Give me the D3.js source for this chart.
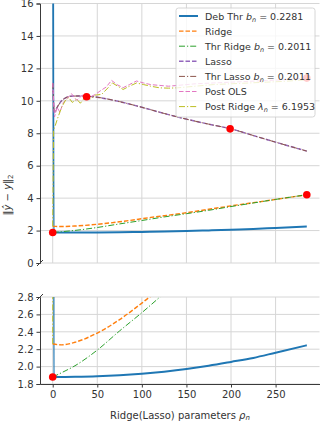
<!DOCTYPE html>
<html>
<head>
<meta charset="utf-8">
<script src="https://cdn.jsdelivr.net/npm/d3@7"></script>
<style>
  body { margin: 0; background: #fff; }
  svg { display: block; font-family: "DejaVu Sans", sans-serif; }
</style>
</head>
<body>
<svg id="viz" width="320" height="423"></svg>
<script>
// ticks
const xTicks = [0, 50, 100, 150, 200, 250];
const yTopTicks = [0, 2, 4, 6, 8, 10, 12, 14, 16];
const yBotTicks = [1.8, 2.0, 2.2, 2.4, 2.6, 2.8];

// Deb Thr
const debX = [0, 1, 5, 25, 50, 75, 100, 125, 150, 175, 200, 225, 250, 285];
const debY = [40, 1.88, 1.88, 1.882, 1.888, 1.9, 1.918, 1.942, 1.972, 2.01, 2.054, 2.1, 2.16, 2.245];
// Ridge
const ridgeX = [0, 10, 25, 50, 75, 100, 110, 125, 150, 175, 200, 225, 250, 285];
const ridgeY = [2.26, 2.25, 2.28, 2.386, 2.54, 2.73, 2.81, 2.91, 3.1, 3.31, 3.52, 3.72, 3.92, 4.21];
// Thr Ridge
const thrRidgeX = [0, 10, 25, 50, 75, 100, 125, 150, 175, 200, 225, 250, 285];
const thrRidgeY = [1.88, 1.93, 2.01, 2.19, 2.41, 2.62, 2.84, 3.04, 3.25, 3.48, 3.7, 3.92, 4.21];
// Lasso
const lassoX = [0, 2, 5, 10, 15, 20, 30, 40, 50, 75, 100, 125, 150, 175, 200, 225, 250, 285];
const lassoY = [11.1, 9.3, 9.6, 10.0, 10.2, 10.28, 10.3, 10.28, 10.22, 9.95, 9.6, 9.22, 8.87, 8.56, 8.27, 7.86, 7.45, 6.9];
// Thr Lasso
const thrLassoX = [0, 2, 5, 10, 15, 20, 30, 40, 50, 75, 100, 125, 150, 175, 200, 225, 250, 285];
const thrLassoY = [11.1, 9.3, 9.6, 10.0, 10.2, 10.28, 10.3, 10.28, 10.22, 9.95, 9.6, 9.22, 8.87, 8.56, 8.27, 7.86, 7.45, 6.9];
// Post OLS
const postOlsX = [0, 2, 5, 8, 12, 16, 21, 27, 33, 38, 42, 48, 53, 60, 66, 72, 79, 86, 94, 102, 110, 120, 130, 140, 160, 180, 200, 220, 240, 260, 285];
const postOlsY = [11.1, 9.0, 9.6, 9.3, 9.9, 10.13, 10.44, 10.03, 10.34, 10.3, 10.24, 10.4, 10.6, 10.85, 11.26, 11.0, 10.81, 11.0, 11.22, 11.1, 11.0, 10.95, 10.9, 10.95, 11.05, 11.1, 11.15, 11.2, 11.25, 11.3, 11.4];
// Post Ridge
const postRidgeX = [0, 1, 3, 6, 10, 14, 18, 22, 27, 31, 36, 42, 48, 55, 62, 67, 73, 79, 86, 94, 102, 110, 120, 130, 140, 160, 180, 200, 220, 240, 260, 285];
const postRidgeY = [2.26, 8.2, 8.5, 9.0, 9.6, 10.0, 10.2, 9.9, 10.1, 9.85, 10.2, 10.1, 10.35, 10.4, 10.8, 11.1, 10.9, 10.7, 10.9, 11.1, 11.0, 10.9, 10.8, 10.78, 10.8, 10.9, 11.0, 11.05, 11.1, 11.15, 11.2, 11.3];
// red markers
const dotX = [0, 38, 199, 285, 285];
const dotY = [1.88, 10.25, 8.27, 4.21, 11.4];

const series = [
  {name: "deb", xs: debX, ys: debY, color: "#1f77b4", width: 2, dash: null},
  {name: "ridge", xs: ridgeX, ys: ridgeY, color: "#ff7f0e", width: 1.4, dash: "4.5,2"},
  {name: "thrRidge", xs: thrRidgeX, ys: thrRidgeY, color: "#2ca02c", width: 1, dash: "6,2,1.2,2"},
  {name: "lasso", xs: lassoX, ys: lassoY, color: "#9467bd", width: 1.4, dash: "4.5,2"},
  {name: "thrLasso", xs: thrLassoX, ys: thrLassoY, color: "#8c564b", width: 1, dash: "6,2,1.2,2"},
  {name: "postOls", xs: postOlsX, ys: postOlsY, color: "#e377c2", width: 1, dash: "4.5,2"},
  {name: "postRidge", xs: postRidgeX, ys: postRidgeY, color: "#bcbd22", width: 1, dash: "6,2,1.2,2"}
];

const svg = d3.select("#viz");
const left = 40, right = 319.5;

const x = d3.scaleLinear().domain([-14.25, 299.25]).range([left, right]);
const yTop = d3.scaleLinear().domain([0, 16]).range([263, 3.5]);
const yBot = d3.scaleLinear().domain([1.8, 2.8]).range([384, 297]);

const gridColor = "#d6d6d6", axisColor = "#3a3a3a", textColor = "#333";

function panel(y, ticks, id, fmt){
  const [y0, y1] = y.range();
  const g = svg.append("g");
  svg.append("clipPath").attr("id", id)
    .append("rect").attr("x", left).attr("y", y1).attr("width", right - left).attr("height", y0 - y1);

  // grid
  g.selectAll(".gx").data(xTicks).join("line")
    .attr("x1", d => x(d)).attr("x2", d => x(d)).attr("y1", y0).attr("y2", y1)
    .attr("stroke", gridColor).attr("stroke-width", 1);
  g.selectAll(".gy").data(ticks).join("line")
    .attr("x1", left).attr("x2", right).attr("y1", d => y(d)).attr("y2", d => y(d))
    .attr("stroke", gridColor).attr("stroke-width", 1);

  const lines = g.append("g").attr("clip-path", `url(#${id})`);
  series.forEach(s => {
    const pts = s.xs.map((v, i) => [v, s.ys[i]]);
    const line = d3.line().x(d => x(d[0])).y(d => y(d[1]))
      .curve(s.name === "postOls" || s.name === "postRidge" ? d3.curveLinear : d3.curveMonotoneX);
    lines.append("path").attr("d", line(pts))
      .attr("fill", "none").attr("stroke", s.color).attr("stroke-width", s.width)
      .attr("stroke-dasharray", s.dash);
  });
  lines.selectAll(".dot").data(dotX.map((v, i) => [v, dotY[i]])).join("circle")
    .attr("cx", d => x(d[0])).attr("cy", d => y(d[1])).attr("r", 3.8).attr("fill", "#ff0000");

  // left axis
  const ax = g.append("g").attr("transform", `translate(${left},0)`)
    .call(d3.axisLeft(y).tickValues(ticks).tickSize(3.5).tickPadding(3).tickFormat(fmt));
  ax.select(".domain").attr("stroke", axisColor);
  ax.selectAll(".tick line").attr("stroke", axisColor);
  ax.selectAll("text").attr("fill", textColor).attr("font-size", 10).attr("font-family", "DejaVu Sans");
  return g;
}

panel(yTop, yTopTicks, "clipTop", d3.format("d"));
const bot = panel(yBot, yBotTicks, "clipBot", d3.format(".1f"));

// bottom x axis
const xa = bot.append("g").attr("transform", `translate(0,${yBot.range()[0]})`)
  .call(d3.axisBottom(x).tickValues(xTicks).tickSize(3.5).tickPadding(3.5).tickSizeOuter(0));
xa.select(".domain").attr("stroke", axisColor);
xa.selectAll(".tick line").attr("stroke", axisColor);
xa.selectAll("text").attr("fill", textColor).attr("font-size", 10).attr("font-family", "DejaVu Sans");

// break marks
[yTop.range()[0], yBot.range()[1]].forEach(yy => {
  svg.append("line").attr("x1", left - 3).attr("y1", yy + 3).attr("x2", left + 3).attr("y2", yy - 3)
    .attr("stroke", axisColor).attr("stroke-width", 1);
});

// axis labels
const xl = svg.append("text").attr("x", 180).attr("y", 418.5).attr("text-anchor", "middle")
  .attr("font-size", 10).attr("fill", textColor);
xl.append("tspan").text("Ridge(Lasso) parameters ");
xl.append("tspan").attr("font-style", "italic").text("ρ");
xl.append("tspan").attr("font-style", "italic").attr("font-size", 7).attr("dy", 1.5).text("n");

const yl = svg.append("text").attr("transform", "translate(11,195) rotate(-90)")
  .attr("text-anchor", "middle").attr("font-size", 10).attr("fill", textColor);
yl.append("tspan").text("‖");
yl.append("tspan").attr("font-style", "italic").text("ŷ");
yl.append("tspan").text(" − ");
yl.append("tspan").attr("font-style", "italic").text("y");
yl.append("tspan").text("‖");
yl.append("tspan").attr("font-size", 7).attr("dy", 2).text("2");

// legend
const legendItems = [
  {s: 0, parts: [["Deb Thr ", ""], ["b", "i"], ["n", "sub"], [" = 0.2281", ""]]},
  {s: 1, parts: [["Ridge", ""]]},
  {s: 2, parts: [["Thr Ridge ", ""], ["b", "i"], ["n", "sub"], [" = 0.2011", ""]]},
  {s: 3, parts: [["Lasso", ""]]},
  {s: 4, parts: [["Thr Lasso ", ""], ["b", "i"], ["n", "sub"], [" = 0.2011", ""]]},
  {s: 5, parts: [["Post OLS", ""]]},
  {s: 6, parts: [["Post Ridge ", ""], ["λ", "i"], ["n", "sub"], [" = 6.1953", ""]]}
];
const lg = svg.append("g");
lg.append("rect").attr("x", 176).attr("y", 8).attr("width", 139).attr("height", 109).attr("rx", 2.5)
  .attr("fill", "#fff").attr("fill-opacity", 0.8).attr("stroke", "#cccccc").attr("stroke-width", 0.8);
legendItems.forEach((it, i) => {
  const s = series[it.s];
  const yy = 16 + i * 15.1;
  lg.append("line").attr("x1", 179).attr("x2", 198).attr("y1", yy).attr("y2", yy)
    .attr("stroke", s.color).attr("stroke-width", s.width).attr("stroke-dasharray", s.dash);
  const t = lg.append("text").attr("x", 205).attr("y", yy + 3.5).attr("font-size", 9.5).attr("fill", textColor);
  it.parts.forEach(p => {
    const ts = t.append("tspan").text(p[0]);
    if (p[1] === "i") ts.attr("font-style", "italic");
    if (p[1] === "sub") ts.attr("font-style", "italic").attr("font-size", 6.5).attr("dy", 2);
    if (p[1] === "" && p[0].startsWith(" =")) ts.attr("dy", -2);
  });
});
</script>
</body>
</html>
